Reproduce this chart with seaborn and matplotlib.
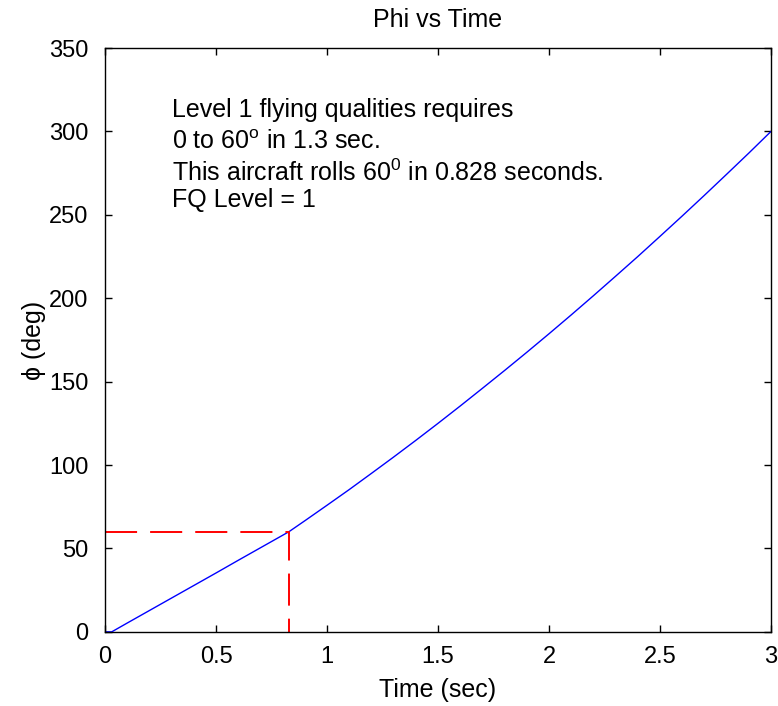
import matplotlib
matplotlib.use("Agg")
import matplotlib.pyplot as plt
import seaborn as sns
import pandas as pd

# roll response
time_s = [0, 0.03, 0.1, 0.2, 0.3, 0.4, 0.5, 0.6, 0.7, 0.828, 0.9, 1.0, 1.1, 1.2,
          1.3, 1.4, 1.5, 1.6, 1.7, 1.8, 1.9, 2.0, 2.1, 2.2, 2.3, 2.4, 2.5, 2.6,
          2.7, 2.8, 2.9, 3.0]
phi_deg = [0, 0, 5.3, 12.8, 20.3, 27.8, 35.3, 42.9, 50.4, 60.0, 66.6, 75.9, 85.3,
           95.0, 104.8, 114.8, 125.0, 135.4, 146.0, 156.7, 167.6, 178.7, 190.0,
           201.5, 213.2, 225.0, 237.1, 249.3, 261.7, 274.3, 287.0, 300.0]

# 60 deg reference marker
t60 = 0.828
ref_x = [0, t60, t60]
ref_y = [60, 60, 0]

notes = [
    "Level 1 flying qualities requires",
    "0 to 60$^{\\mathrm{o}}$ in 1.3 sec.",
    "This aircraft rolls 60$^{\\mathrm{0}}$ in 0.828 seconds.",
    "FQ Level = 1",
]
note_y = [308.5, 289.5, 270.5, 254.5]

sns.set_style("ticks")
plt.rcParams['font.family'] = ['Liberation Sans', 'DejaVu Sans']
plt.rcParams['mathtext.fontset'] = 'custom'
plt.rcParams['mathtext.rm'] = 'Liberation Sans'
plt.rcParams['xtick.direction'] = 'in'
plt.rcParams['ytick.direction'] = 'in'
plt.rcParams['text.color'] = 'black'
plt.rcParams['axes.labelcolor'] = 'black'

df = pd.DataFrame({'Time': time_s, 'Phi': phi_deg})

fig = plt.figure(figsize=(7.78, 7.06), dpi=100)
ax = fig.add_axes([0.135, 0.105, 0.856, 0.827])

sns.lineplot(data=df, x='Time', y='Phi', color='#0000ff', linewidth=1.0,
             sort=False, estimator=None, ax=ax)
ax.plot(ref_x, ref_y, color='#ff0000', linewidth=1.4, dashes=(16.5, 6.7))

for txt, y in zip(notes, note_y):
    ax.text(0.30, y, txt, fontsize=18, color='black', va='baseline', ha='left')

ax.set_xlim(0, 3)
ax.set_ylim(0, 350)
ax.set_xticks([0, 0.5, 1, 1.5, 2, 2.5, 3])
ax.set_xticklabels(['0', '0.5', '1', '1.5', '2', '2.5', '3'])
ax.set_yticks(range(0, 351, 50))

ax.tick_params(axis='both', which='both', top=True, right=True, length=5,
               width=1, labelsize=17, color='black', labelcolor='black')
ax.tick_params(axis='x', pad=10.5)
ax.tick_params(axis='y', pad=12)
for side in ['top', 'right', 'bottom', 'left']:
    ax.spines[side].set_visible(True)
    ax.spines[side].set_color('black')
    ax.spines[side].set_linewidth(1.0)

ax.set_xlabel('Time (sec)', fontsize=18, labelpad=7)
ax.set_ylabel('\u03d5 (deg)', fontsize=18, labelpad=2)
ax.set_title('Phi vs Time', fontsize=18, pad=15)

fig.savefig('out.png', dpi=100, facecolor='white')
